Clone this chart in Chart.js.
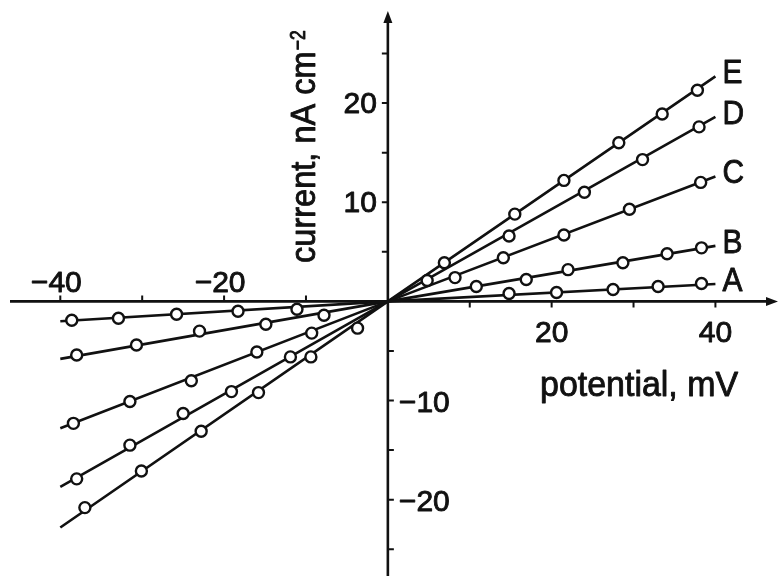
<!DOCTYPE html>
<html>
<head>
<meta charset="utf-8">
<script src="https://cdn.jsdelivr.net/npm/chart.js@4"></script>
<style>
  body { margin: 0; background: #fff; }
  canvas { display: block; }
</style>
</head>
<body>
<canvas id="iv-chart" width="779" height="576"></canvas>
<script>
// curve names, drawn at the right end of each fitted line
const curveNames = ["A", "B", "C", "D", "E"];

// measured points (potential in mV, current in nA cm^-2)
const potA = [-38.6, -32.9, -25.8, -18.3, -11.1, 14.8, 20.6, 27.5, 33.0, 38.3];
const curA = [-1.9, -1.7, -1.3, -1.0, -0.8, 0.8, 0.9, 1.2, 1.5, 1.8];

const potB = [-38.0, -30.7, -23.0, -14.9, -7.8, 10.8, 16.9, 22.0, 28.7, 34.1, 38.3];
const curB = [-5.4, -4.4, -3.0, -2.3, -1.4, 1.5, 2.2, 3.2, 3.9, 4.8, 5.4];

const potC = [-38.4, -31.5, -24.0, -16.0, -9.3, 8.2, 14.1, 21.5, 29.5, 38.2];
const curC = [-12.3, -10.1, -8.0, -5.1, -3.2, 2.4, 4.4, 6.7, 9.3, 12.0];

const potD = [-38.0, -31.5, -25.0, -19.1, -11.9, 4.8, 14.8, 24.0, 31.1, 38.0];
const curD = [-17.9, -14.5, -11.3, -9.1, -5.6, 2.1, 6.6, 11.0, 14.3, 17.6];

const potE = [-37.0, -30.1, -22.8, -15.8, -9.4, -3.7, 6.9, 15.5, 21.5, 28.2, 33.5, 37.8];
const curE = [-20.8, -17.1, -13.1, -9.2, -5.6, -2.7, 3.9, 8.8, 12.2, 16.0, 18.9, 21.3];

// fitted straight lines through the origin: current at -40 and +40 mV
const fitPot = [-40, 0, 40];
const fitLeft = [-2.0, -5.8, -12.8, -18.7, -22.8];
const fitRight = [1.75, 5.6, 12.6, 18.6, 22.7];

// axis ticks
const xTickLabels = [-40, -20, 20, 40];
const xTickMarks = [-40, -30, -20, -10, 10, 20, 30, 40];
const yTickLabels = [20, 10, -10, -20];
const yTickMarks = [25, 20, 15, 10, 5, -5, -10, -15, -20, -25];

const allPot = [potA, potB, potC, potD, potE];
const allCur = [curA, curB, curC, curD, curE];

const INK = "#111";
const FONT = '"Liberation Sans", Arial, sans-serif';

// the scanned lettering is heavy, so fill and give it a thin outline
function drawText(ctx, str, px, py, size, align, squeeze, angle) {
  ctx.save();
  ctx.font = `${size}px ${FONT}`;
  ctx.fillStyle = INK;
  ctx.strokeStyle = INK;
  ctx.lineWidth = 0.9;
  ctx.lineJoin = "round";
  ctx.textAlign = align;
  ctx.textBaseline = "alphabetic";
  ctx.translate(px, py);
  if (angle) ctx.rotate(angle);
  ctx.scale(squeeze, 1);
  ctx.fillText(str, 0, 0);
  ctx.strokeText(str, 0, 0);
  ctx.restore();
}

const axesPlugin = {
  id: "crossAxes",
  beforeDatasetsDraw(chart) {
    const { ctx, width, height } = chart;
    const sx = chart.scales.x;
    const sy = chart.scales.y;
    const x0 = sx.getPixelForValue(0);
    const y0 = sy.getPixelForValue(0);

    ctx.save();
    ctx.strokeStyle = INK;
    ctx.fillStyle = INK;
    ctx.lineWidth = 2.6;
    ctx.beginPath();
    ctx.moveTo(10, y0);
    ctx.lineTo(width - 8, y0);
    ctx.moveTo(x0, height);
    ctx.lineTo(x0, 20);
    ctx.stroke();

    // arrow heads
    ctx.beginPath();
    ctx.moveTo(width - 1, y0);
    ctx.lineTo(width - 13, y0 - 4.5);
    ctx.lineTo(width - 13, y0 + 4.5);
    ctx.closePath();
    ctx.fill();
    ctx.beginPath();
    ctx.moveTo(x0, 11);
    ctx.lineTo(x0 - 4.5, 23);
    ctx.lineTo(x0 + 4.5, 23);
    ctx.closePath();
    ctx.fill();

    // tick marks sit on the same side as the labels
    ctx.lineWidth = 2;
    ctx.beginPath();
    xTickMarks.forEach((v) => {
      const p = sx.getPixelForValue(v);
      ctx.moveTo(p, y0);
      ctx.lineTo(p, y0 + (v < 0 ? -6 : 6));
    });
    yTickMarks.forEach((v) => {
      const p = sy.getPixelForValue(v);
      ctx.moveTo(x0, p);
      ctx.lineTo(x0 + (v > 0 ? -6 : 6), p);
    });
    ctx.stroke();
    ctx.restore();
  },
  afterDraw(chart) {
    const { ctx } = chart;
    const sx = chart.scales.x;
    const sy = chart.scales.y;
    const x0 = sx.getPixelForValue(0);
    const y0 = sy.getPixelForValue(0);
    const fmt = (v) => (v < 0 ? "\u2212" + Math.abs(v) : String(v));

    xTickLabels.forEach((v) => {
      const p = sx.getPixelForValue(v);
      drawText(ctx, fmt(v), p - (v < 0 ? 4 : 0), v < 0 ? y0 - 9 : y0 + 41, 30, "center", 1);
    });
    yTickLabels.forEach((v) => {
      const p = sy.getPixelForValue(v);
      if (v > 0) drawText(ctx, fmt(v), x0 - 11, p + 10, 30, "right", 1);
      else drawText(ctx, fmt(v), x0 + 11, p + 11, 30, "left", 1);
    });

    // axis titles
    drawText(ctx, "potential, mV", 540, 396, 35, "left", 0.97);

    ctx.save();
    ctx.font = `35px ${FONT}`;
    const title = "current, nA cm";
    const squeeze = 0.93;
    const w = ctx.measureText(title).width * squeeze;
    ctx.restore();
    drawText(ctx, title, 315, 263, 35, "left", squeeze, -Math.PI / 2);
    drawText(ctx, "\u22122", 305, 263 - w - 1, 22, "left", 0.8, -Math.PI / 2);

    // curve names
    curveNames.forEach((name, i) => {
      const px = sx.getPixelForValue(fitPot[2]) + 7;
      const py = sy.getPixelForValue(fitRight[i]) + 7;
      drawText(ctx, name, px, py, 34, "left", 0.88);
    });
  },
};

const datasets = [];
curveNames.forEach((name, i) => {
  datasets.push({
    label: name + " fit",
    type: "line",
    data: [
      { x: fitPot[0], y: fitLeft[i] },
      { x: fitPot[1], y: 0 },
      { x: fitPot[2], y: fitRight[i] },
    ],
    borderColor: INK,
    borderWidth: 2.6,
    pointRadius: 0,
    tension: 0,
    order: 2,
  });
  datasets.push({
    label: name,
    type: "scatter",
    data: allPot[i].map((p, k) => ({ x: p, y: allCur[i][k] })),
    pointRadius: 5.5,
    pointBorderWidth: 2.4,
    pointBorderColor: INK,
    pointBackgroundColor: "#fff",
    order: 1,
  });
});

new Chart(document.getElementById("iv-chart"), {
  type: "scatter",
  data: { datasets },
  options: {
    responsive: false,
    animation: false,
    devicePixelRatio: 1,
    layout: { padding: 0 },
    scales: {
      x: { type: "linear", min: -46.4, max: 46.8, display: false },
      y: { type: "linear", min: -26.9, max: 29.6, display: false },
    },
    plugins: {
      legend: { display: false },
      tooltip: { enabled: false },
    },
  },
  plugins: [axesPlugin],
});
</script>
</body>
</html>
